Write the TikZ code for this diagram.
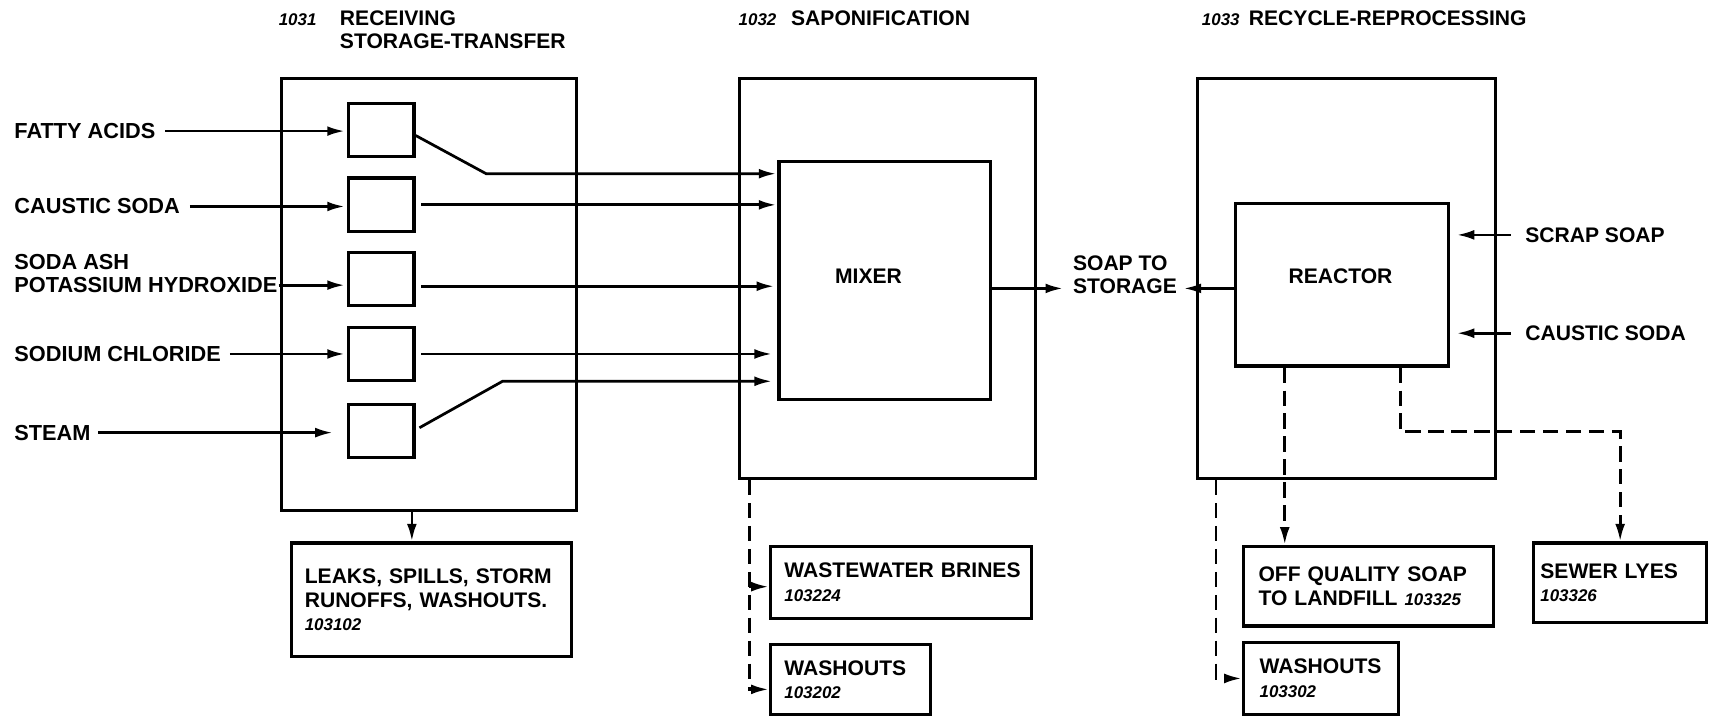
\documentclass[tikz,border=0pt]{standalone}
\usepackage{fontspec}
\setmainfont{Liberation Sans}
\usetikzlibrary{arrows.meta}
\newcommand\itnum[1]{{\bfseries\itshape\fontsize{15.5}{21.5}\selectfont #1}}
\begin{document}
\begin{tikzpicture}[x=1pt,y=-1pt,
  txt/.style={font=\fontsize{19.3}{21.5}\selectfont\bfseries, inner sep=0pt, anchor=west, align=left},
  inl/.style={txt, font=\fontsize{19.9}{21.5}\selectfont\bfseries},
  tnum/.style={font=\bfseries\itshape\fontsize{15.5}{18}\selectfont, inner sep=0pt, anchor=west},
  box/.style={draw, line width=2.9pt, inner sep=0pt},
  sbox/.style={draw, line width=2.9pt, minimum width=60pt, minimum height=49pt, inner sep=0pt},
  obox/.style={draw, line width=2.9pt, inner ysep=0pt, align=left,
     font=\fontsize{19.3}{21.5}\selectfont\bfseries},
  flow/.style={line width=2.5pt, -{Latex[length=16pt,width=9pt]}},
  dflow/.style={flow, dash pattern=on 14pt off 7pt},
]
\useasboundingbox (0,0) rectangle (1568,656);

% titles
\node[tnum] (n1031) at (255,18) {1031};
\node[txt] (t1a) at (311,17) {RECEIVING};
\node[txt] (t1b) at (311,38) {STORAGE-TRANSFER};
\node[tnum] (n1032) at (676,18) {1032};
\node[txt] (t2) at (724,17) {SAPONIFICATION};
\node[tnum] (n1033) at (1100,18) {1033};
\node[txt] (t3) at (1143,17) {RECYCLE-REPROCESSING};

% outer boxes
\node[box, minimum width=270pt, minimum height=395pt] (r1) at (393,269.5) {};
\node[box, minimum width=271pt, minimum height=366pt] (r2) at (812.5,255) {};
\node[box, minimum width=273pt, minimum height=366pt] (r3) at (1232.5,255) {};

% small boxes
\node[sbox] (b1) at (349,119) {};
\node[sbox] (b2) at (349,187.5) {};
\node[sbox] (b3) at (349,255.5) {};
\node[sbox] (b4) at (349,324) {};
\node[sbox] (b5) at (349,394.5) {};

% mixer / reactor
\node[box, minimum width=194pt, minimum height=218pt] (mix) at (810,257) {};
\node[txt, anchor=center] (mixl) at (795,253) {MIXER};
\node[box, minimum width=195pt, minimum height=149pt] (rea) at (1228.5,260.5) {};
\node[txt, anchor=center] (real) at (1227,253) {REACTOR};

% input labels
\node[inl] (fa) at (13,120) {FATTY ACIDS};
\node[inl] (cs) at (13,189) {CAUSTIC SODA};
\node[inl] (sa) at (13,240) {SODA ASH};
\node[inl] (ph) at (13,261) {POTASSIUM HYDROXIDE};
\node[inl] (sc) at (13,324) {SODIUM CHLORIDE};
\node[inl] (st) at (13,396) {STEAM};
\node[txt] (soap) at (982,251.5) {SOAP TO\\STORAGE};
\node[txt] (ss) at (1396,215) {SCRAP SOAP};
\node[txt] (cs2) at (1396,305) {CAUSTIC SODA};

% output boxes
\node[obox, minimum width=256pt, minimum height=104pt, text width=232pt, inner xsep=12pt] (lk) at (395,549)
  {LEAKS, SPILLS, STORM\\RUNOFFS, WASHOUTS.\\\itnum{103102}};
\node[obox, minimum width=239pt, minimum height=66pt, text width=213pt, inner xsep=13pt] (ww) at (824.5,533)
  {\mbox{WASTEWATER BRINES}\\\itnum{103224}};
\node[obox, minimum width=147pt, minimum height=64pt, text width=121pt, inner xsep=13pt] (wo1) at (778.5,622)
  {WASHOUTS\\\itnum{103202}};
\node[obox, minimum width=229pt, minimum height=73pt, text width=201pt, inner xsep=14pt] (oq) at (1252.5,536.5)
  {OFF QUALITY SOAP\\\mbox{TO LANDFILL \itnum{103325}}};
\node[obox, minimum width=158pt, minimum height=73pt, text width=146pt, inner xsep=6pt] (sl) at (1483,533.5)
  {SEWER LYES\\\itnum{103326}};
\node[obox, minimum width=142pt, minimum height=66pt, text width=112pt, inner xsep=15pt] (wo2) at (1209,621)
  {WASHOUTS\\\itnum{103302}};

% input arrows
\draw[flow, shorten <=9pt, shorten >=2pt] (fa.east) -- (fa.east -| b1.west);
\draw[flow, shorten <=9pt, shorten >=2pt] (cs.east) -- (cs.east -| b2.west);
\draw[flow, shorten <=1pt, shorten >=2pt] (ph.east) -- (ph.east -| b3.west);
\draw[flow, shorten <=8pt, shorten >=2pt] (sc.east) -- (sc.east -| b4.west);
\draw[flow, shorten <=7pt, shorten >=13pt] (st.east) -- (st.east -| b5.west);

% to mixer
\draw[flow, shorten >=1pt] ([yshift=-5pt]b1.east) -- (445,159) -- (mix.west |- 0,159);
\draw[flow, shorten <=5pt, shorten >=1pt] (b2.east) -- (b2.east -| mix.west);
\draw[flow, shorten <=5pt, shorten >=3pt] ([yshift=-6.5pt]b3.east) -- ([yshift=-6.5pt]b3.east -| mix.west);
\draw[flow, shorten <=5pt, shorten >=5pt] (b4.east) -- (b4.east -| mix.west);
\draw[flow, shorten <=4pt, shorten >=5pt] ([yshift=1pt]b5.east) -- (460,349) -- (mix.west |- 0,349);

% products
\draw[flow, shorten >=9pt] (mix.east |- 0,264) -- (soap.west |- 0,264);
\draw[flow, shorten >=6pt] (rea.west |- 0,264) -- (soap.east |- 0,264);
\draw[flow, shorten <=13pt, shorten >=6pt] (ss.west) -- (ss.west -| rea.east);
\draw[flow, shorten <=13pt, shorten >=6pt] (cs2.west) -- (cs2.west -| rea.east);

% wastes
\draw[flow] (r1.south -| 377,0) -- (lk.north -| 377,0);
\draw[dflow] (r2.south -| 686,0) |- ([yshift=-9pt]wo1.west);
\draw[flow] (686,537) -- (ww.west |- 0,537);
\draw[dflow] (rea.south -| 1176,0) -- (oq.north -| 1176,0);
\draw[dflow] (rea.south -| 1282,0) |- (sl.north |- 0,395) -- (sl.north);
\draw[dflow] (r3.south -| 1113,0) |- (wo2.west);
\end{tikzpicture}
\end{document}
